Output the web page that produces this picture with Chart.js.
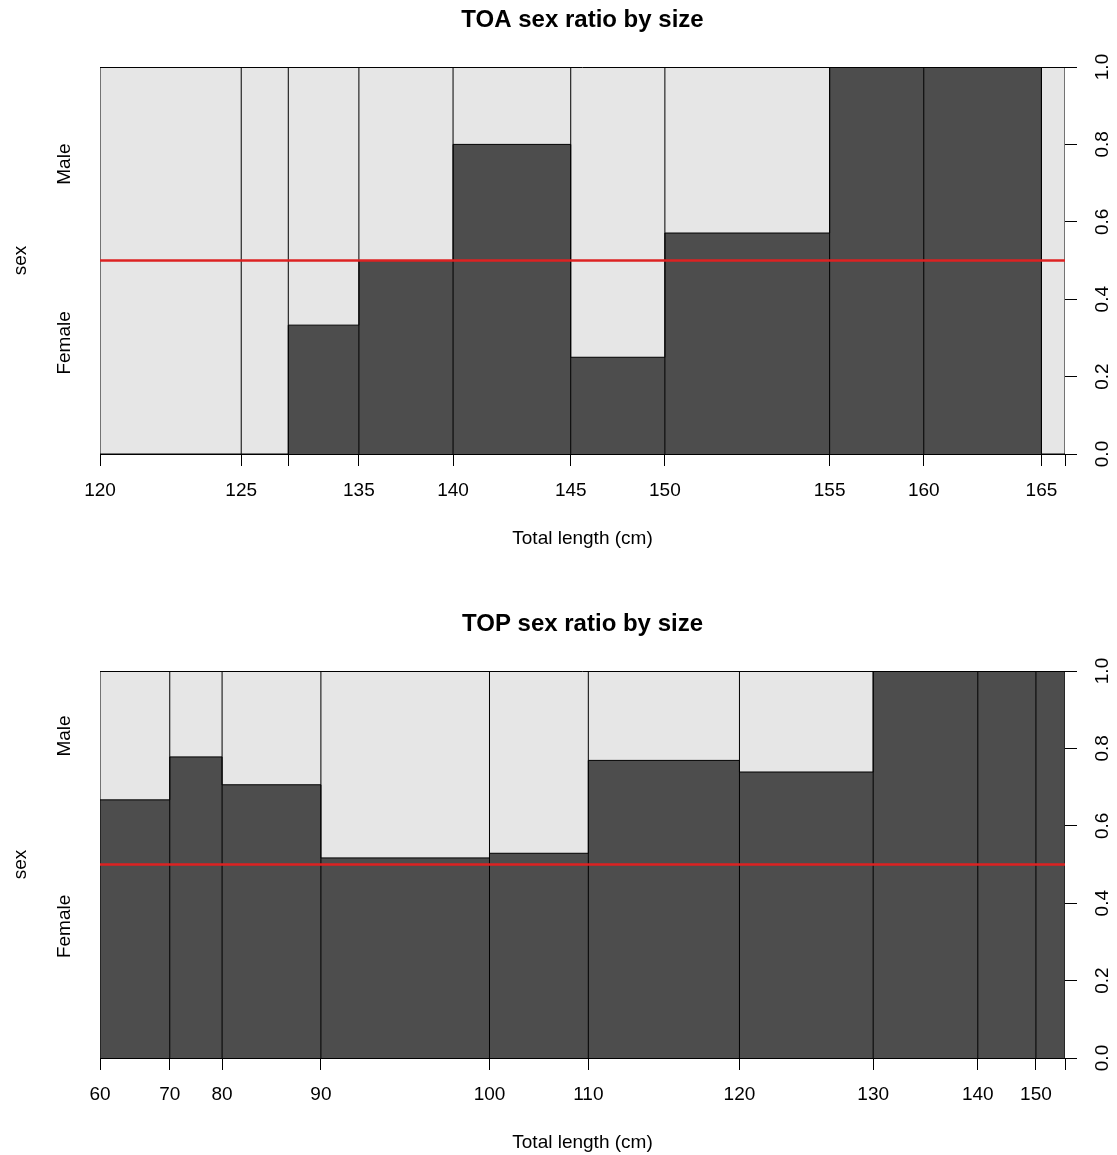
<!DOCTYPE html>
<html>
<head>
<meta charset="utf-8">
<title>Sex ratio by size</title>
<script src="https://cdn.jsdelivr.net/npm/chart.js@4.4.1/dist/chart.umd.min.js"></script>
<style>
  html, body { margin: 0; padding: 0; background: #fff; }
  canvas { display: block; }
</style>
</head>
<body>
<canvas id="chart-toa" width="1117" height="604"></canvas>
<canvas id="chart-top" width="1117" height="551"></canvas>
<script>
"use strict";

// ── Data: fish per length class (bar widths) and female share ────────────────
const toaCounts      = [6, 2, 3, 4, 5, 4, 7, 4, 5, 1];
const toaFemale      = [0, 0, 0.333, 0.5, 0.8, 0.25, 0.571, 1, 1, 0];
const toaBreakLabels = ["120", "125", "", "135", "140", "145", "150", "155", "160", "165", ""];
const toaSexAt       = [0.287, 0.749];

const topCounts      = [12, 9, 17, 29, 17, 26, 23, 18, 10, 5];
const topFemale      = [0.667, 0.778, 0.706, 0.517, 0.529, 0.769, 0.739, 1, 1, 1];
const topBreakLabels = ["60", "70", "80", "90", "100", "110", "120", "130", "140", "150", ""];
const topSexAt       = [0.34, 0.832];

const sexLabels  = ["Female", "Male"];
const ratioTicks = [0, 0.2, 0.4, 0.6, 0.8, 1];
const evenRatio  = 0.5;

// ── Style ─────────────────────────────────────────────────────────────────────
const C = {
  text:   "#000000",
  line:   "#000000",
  female: "#4d4d4d",
  male:   "#e6e6e6",
  red:    "#dd2222",
};

Chart.defaults.font.family = "'Liberation Sans', Arial, sans-serif";
Chart.defaults.font.size   = 19;
Chart.defaults.color       = C.text;

// running total of counts -> class edges on the x scale
function cumulative(counts) {
  const out = [0];
  counts.forEach(c => out.push(out[out.length - 1] + c));
  return out;
}

function spineplot(canvasId, title, counts, female, breakLabels, sexAt, padBottom) {
  const edges = cumulative(counts);
  const total = edges[edges.length - 1];

  const femaleSteps = edges.map((x, i) => ({ x, y: female[Math.min(i, female.length - 1)] }));
  // full-height separators at every class edge (also the left/right frame)
  const dividers = [];
  edges.forEach(x => dividers.push({ x, y: 0 }, { x, y: 1 }, { x, y: null }));

  return new Chart(document.getElementById(canvasId), {
    type: "line",
    data: {
      datasets: [
        {
          label: "1:1",
          data: [{ x: 0, y: evenRatio }, { x: total, y: evenRatio }],
          borderColor: C.red,
          borderWidth: 2.5,
          pointRadius: 0,
          fill: false,
        },
        {
          label: "classes",
          data: dividers,
          borderColor: C.line,
          borderWidth: 1,
          pointRadius: 0,
          spanGaps: false,
          fill: false,
        },
        {
          label: "Female",
          data: femaleSteps,
          stepped: "before",
          borderColor: C.line,
          borderWidth: 1,
          backgroundColor: C.female,
          pointRadius: 0,
          fill: "origin",
        },
        {
          label: "Male",
          data: [{ x: 0, y: 1 }, { x: total, y: 1 }],
          borderColor: "rgba(0,0,0,0)",
          borderWidth: 1,
          backgroundColor: C.male,
          pointRadius: 0,
          fill: "origin",
        },
      ],
    },
    options: {
      responsive: false,
      animation: false,
      events: [],
      layout: { padding: { top: 0, left: 0, right: 0, bottom: padBottom } },
      plugins: {
        legend:  { display: false },
        tooltip: { enabled: false },
        title: {
          display: true,
          fullSize: false,
          text: title,
          color: C.text,
          font: { size: 24, weight: "bold", lineHeight: 1 },
          padding: { top: 8, bottom: 35 },
        },
      },
      scales: {
        x: {
          type: "linear",
          min: 0,
          max: total,
          afterBuildTicks: s => { s.ticks = edges.map(v => ({ value: v })); },
          afterFit: s => { s.height = 97; },
          ticks: {
            autoSkip: false,
            maxRotation: 0,
            padding: 13,
            callback: (v, i) => breakLabels[i],
          },
          grid: { drawOnChartArea: false, drawTicks: true, tickLength: 12, color: C.line, tickColor: C.line },
          border: { display: true, color: C.line, width: 1 },
          title: {
            display: true,
            text: "Total length (cm)",
            color: C.text,
            padding: { top: 0, bottom: 0.6 },
          },
        },
        y: {
          type: "linear",
          position: "right",
          min: 0,
          max: 1,
          afterBuildTicks: s => { s.ticks = ratioTicks.map(v => ({ value: v })); },
          afterFit: s => { s.width = 52; },
          ticks: {
            autoSkip: false,
            minRotation: 90,
            maxRotation: 90,
            crossAlign: "center",
            padding: 13,
            callback: v => v.toFixed(1),
          },
          // only the 0 and 1 lines show: bottom and top of the frame
          grid: {
            z: 1,
            tickLength: 12,
            tickColor: C.line,
            color: ctx => (ctx.tick && (ctx.tick.value === 0 || ctx.tick.value === 1)) ? C.line : "rgba(0,0,0,0)",
          },
          border: { display: false },
        },
        yL: {
          type: "linear",
          position: "left",
          min: 0,
          max: 1,
          afterBuildTicks: s => { s.ticks = sexAt.map(v => ({ value: v })); },
          afterFit: s => { s.width = 100; },
          ticks: {
            autoSkip: false,
            minRotation: 90,
            maxRotation: 90,
            crossAlign: "center",
            padding: 4,
            callback: (v, i) => sexLabels[i],
          },
          grid: { display: false, drawTicks: false },
          border: { display: false },
          title: { display: true, text: "sex", color: C.text, padding: { top: 9, bottom: 0 } },
        },
      },
    },
  });
}

spineplot("chart-toa", "TOA sex ratio by size", toaCounts, toaFemale, toaBreakLabels, toaSexAt, 53);
spineplot("chart-top", "TOP sex ratio by size", topCounts, topFemale, topBreakLabels, topSexAt, 0);
</script>
</body>
</html>
